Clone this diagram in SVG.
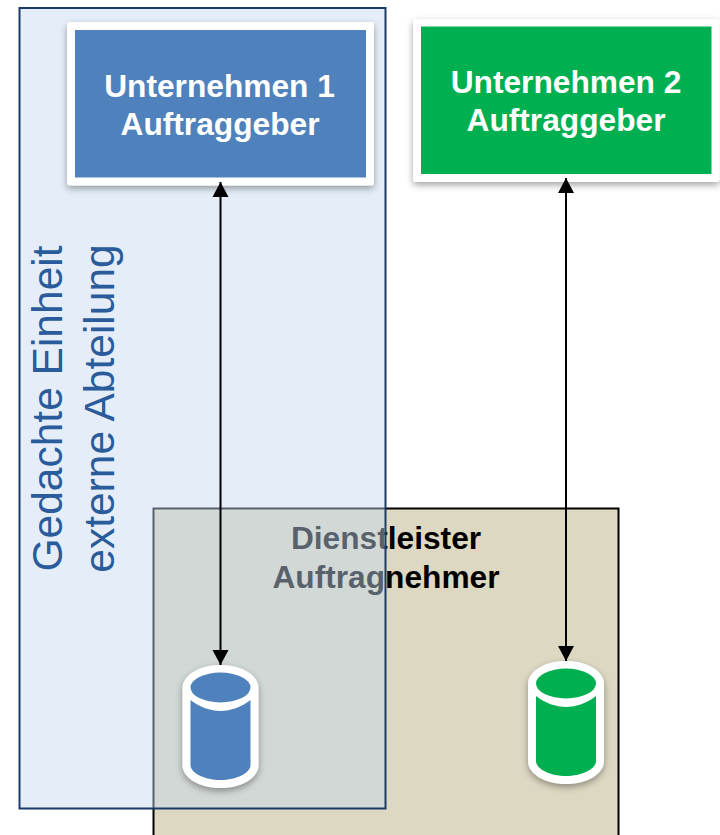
<svg xmlns="http://www.w3.org/2000/svg" width="720" height="835" viewBox="0 0 720 835">
<style>
text{font-family:"Liberation Sans",Arial,sans-serif}
.b{font-weight:700;font-size:31.700px;text-anchor:middle}
.w{fill:#fff}
.k{fill:#000}
.v{font-size:42.500px;fill:#2a5b9a;text-anchor:middle}
.conn{stroke:#000;stroke-width:2;fill:none;marker-start:url(#ah);marker-end:url(#ah)}
</style>
<defs>
<marker id="ah" markerUnits="userSpaceOnUse" markerWidth="16" markerHeight="17" refX="15" refY="8.500" orient="auto-start-reverse"><path d="M0 .5L15 8.500L0 16.500Z" fill="#000"/></marker>
<filter id="sh" x="-20%" y="-20%" width="140%" height="140%"><feDropShadow dx="0" dy="3" stdDeviation="3.500" flood-color="#000" flood-opacity=".36"/></filter>
<g id="cyl">
<path d="M-38 23C-38 10-21 0 0 0S38 10 38 23V100C38 113 21 123 0 123S-38 113-38 100Z" fill="#fff" filter="url(#sh)"/>
</g>
</defs>
<g id="dienstleister">
<rect x="153.500" y="508.500" width="465" height="340" fill="#ddd8c2" stroke="#000" stroke-width="2"/>
<text class="b k" x="386" y="549">Dienstleister</text>
<text class="b k" x="386" y="588">Auftragnehmer</text>
</g>
<g id="einheit">
<rect x="19.500" y="8" width="366" height="800.500" fill="#c6d9f0" fill-opacity=".45" stroke="#1b3a68" stroke-width="2"/>
<text class="v" transform="translate(62 408.500) rotate(-90)">Gedachte Einheit</text>
<text class="v" transform="translate(113.500 408.500) rotate(-90)">externe Abteilung</text>
</g>
<g id="unternehmen1">
<rect x="67" y="22" width="307" height="163.500" rx="3" fill="#fff" filter="url(#sh)"/>
<rect x="75" y="30" width="291" height="147.500" fill="#4f81bd"/>
<text class="b w" x="219.500" y="97">Unternehmen 1</text>
<text class="b w" x="220" y="135">Auftraggeber</text>
</g>
<g id="unternehmen2">
<rect x="413" y="19" width="306.500" height="163" rx="3" fill="#fff" filter="url(#sh)"/>
<rect x="421" y="26.500" width="290.500" height="147.500" fill="#00b050"/>
<text class="b w" x="566" y="93">Unternehmen 2</text>
<text class="b w" x="566" y="131">Auftraggeber</text>
</g>
<g id="speicher1" transform="translate(220.500 665)">
<use href="#cyl"/>
<path d="M-30 35C-21 42-10 46 0 46S21 42 30 35V100C30 108 16 115 0 115S-30 108-30 100Z" fill="#4f81bd"/>
<ellipse cx="0" cy="22.500" rx="30" ry="15" fill="#4f81bd"/>
</g>
<g id="speicher2" transform="translate(566 661)">
<use href="#cyl"/>
<path d="M-30 35C-21 42-10 46 0 46S21 42 30 35V100C30 108 16 115 0 115S-30 108-30 100Z" fill="#00b050"/>
<ellipse cx="0" cy="22.500" rx="30" ry="15" fill="#00b050"/>
</g>
<g id="connectors">
<path class="conn" d="M220.500 182V665"/>
<path class="conn" d="M566 178V661"/>
</g>
</svg>
